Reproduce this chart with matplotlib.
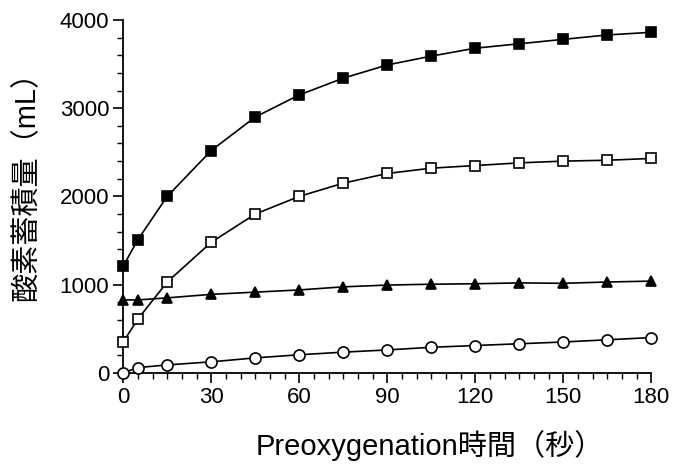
import matplotlib as mpl
mpl.use('Agg')
import matplotlib.pyplot as plt
from matplotlib.ticker import MultipleLocator

plt.rcParams['font.family'] = ['Liberation Sans', 'Noto Sans CJK JP', 'DejaVu Sans']

## Data

t = [0, 5, 15, 30, 45, 60, 75, 90, 105, 120, 135, 150, 165, 180]
filled_sq = [1210, 1510, 2000, 2520, 2900, 3150, 3340, 3490, 3590, 3680, 3730, 3780, 3830, 3860]
open_sq = [350, 610, 1030, 1480, 1800, 2000, 2150, 2260, 2320, 2350, 2380, 2400, 2410, 2430]
triangle = [827, 827, 850, 890, 915, 940, 975, 995, 1005, 1010, 1020, 1015, 1030, 1040]
circle = [0, 60, 90, 125, 170, 205, 235, 260, 290, 310, 330, 350, 375, 400]

xticks = [0, 30, 60, 90, 120, 150, 180]
yticks = [0, 1000, 2000, 3000, 4000]

## Plot

fig = plt.figure(figsize=(6.77, 4.75), dpi=100)
ax = fig.add_axes([0.182, 0.215, 0.78, 0.743])

kw = dict(color='black', lw=1.2, markeredgewidth=1.2, clip_on=False, zorder=3)
ax.plot(t, filled_sq, marker='s', markerfacecolor='black', markersize=7, **kw)
ax.plot(t, open_sq, marker='s', markerfacecolor='white', markersize=7, **kw)
ax.plot(t, triangle, marker='^', markerfacecolor='black', markersize=7, **kw)
ax.plot(t, circle, marker='o', markerfacecolor='white', markersize=8, **kw)

ax.set_xlim(0, 180)
ax.set_ylim(0, 4000)
ax.set_xticks(xticks)
ax.set_yticks(yticks)
ax.xaxis.set_minor_locator(MultipleLocator(5))
ax.yaxis.set_minor_locator(MultipleLocator(200))
ax.tick_params(which='major', length=7, width=1.2, labelsize=16, pad=3)
ax.tick_params(which='minor', length=4, width=1.0)

ax.spines['top'].set_visible(False)
ax.spines['right'].set_visible(False)
ax.spines['left'].set_linewidth(1.3)
ax.spines['bottom'].set_linewidth(1.3)

ax.set_xlabel('Preoxygenation時間（秒）', fontsize=21, labelpad=16)
ax.set_ylabel('酸素蓄積量（mL）', fontsize=21, labelpad=14)
ax.xaxis.label.set_x(0.581)
ax.yaxis.label.set_y(0.55)

plt.savefig('out.png', dpi=100)
